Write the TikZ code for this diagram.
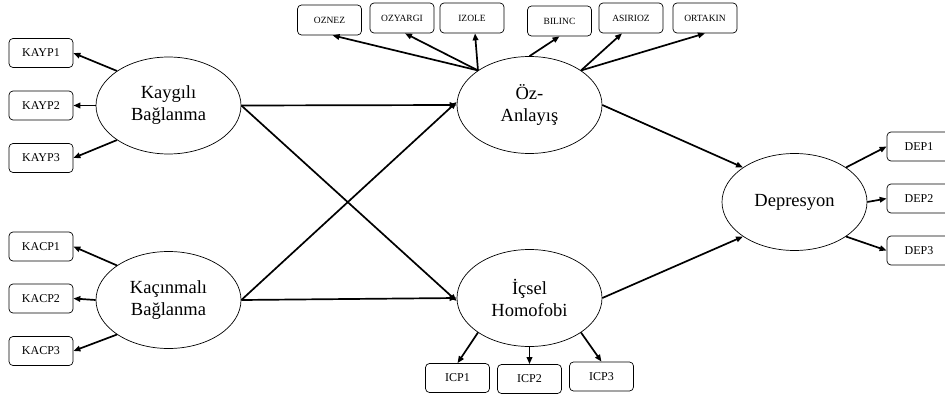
\documentclass[tikz,border=0pt]{standalone}
\usepackage{fontspec}
\setmainfont{Liberation Serif}
\usetikzlibrary{arrows.meta,shapes.geometric}
\begin{document}
\begin{tikzpicture}[x=1pt,y=-1pt,
  latent/.style={draw, line width=0.7pt, ellipse, minimum width=145pt, minimum height=97pt, inner sep=0pt, align=center, font=\fontsize{18.5}{22}\selectfont},
  indbox/.style={draw, line width=0.7pt, rounded corners=4pt, minimum width=64pt, minimum height=29pt, inner sep=0pt, font=\fontsize{12}{14}\selectfont},
  topbox/.style={draw, line width=0.7pt, rounded corners=4pt, minimum width=64pt, minimum height=30pt, inner sep=0pt, font=\fontsize{9.5}{11}\selectfont},
  arr/.style={line width=1.7pt, -{Triangle[length=7pt,width=5.5pt]}}
]
\useasboundingbox (0,0) rectangle (945,401);
% latent variables
\node[latent] (ka) at (168.5,105.5) {Kaygılı\\Bağlanma};
\node[latent] (kc) at (168.5,300) {Kaçınmalı\\Bağlanma};
\node[latent] (oz) at (529.5,105) {Öz-\\Anlayış};
\node[latent] (ic) at (529.5,298) {İçsel\\Homofobi};
\node[latent] (dep) at (794.5,202) {Depresyon};
% left indicators
\node[indbox] (kayp1) at (41,53) {KAYP1};
\node[indbox] (kayp2) at (41,105.5) {KAYP2};
\node[indbox] (kayp3) at (41,158) {KAYP3};
\node[indbox] (kacp1) at (41,246.5) {KACP1};
\node[indbox] (kacp2) at (41,298.5) {KACP2};
\node[indbox] (kacp3) at (41,351) {KACP3};
% top indicators
\node[topbox] (oznez) at (329.5,20) {OZNEZ};
\node[topbox] (ozyargi) at (402,18) {OZYARGI};
\node[topbox] (izole) at (472,18) {IZOLE};
\node[topbox] (bilinc) at (559.5,21) {BILINC};
\node[topbox] (asirioz) at (631,18) {ASIRIOZ};
\node[topbox] (ortakin) at (705,18) {ORTAKIN};
% bottom indicators
\node[indbox] (icp1) at (457.5,378) {ICP1};
\node[indbox] (icp2) at (529.5,379) {ICP2};
\node[indbox] (icp3) at (601.5,376.5) {ICP3};
% right indicators
\node[indbox] (dep1) at (919,146.5) {DEP1};
\node[indbox] (dep2) at (919,198.5) {DEP2};
\node[indbox] (dep3) at (919,250.5) {DEP3};
% structural paths
\draw[arr] (ka.east) -- (oz.west);
\draw[arr] (ka.east) -- ([yshift=-3pt]ic.west);
\draw[arr] (kc.east) -- ([yshift=3pt]oz.west);
\draw[arr] (kc.east) -- (ic.west);
\draw[arr] (oz.east) -- (dep.north west);
\draw[arr] (ic.east) -- (dep.south west);
% measurement paths
\draw[arr] (ka.north west) -- (kayp1.east);
\draw[arr] (ka.west) -- (kayp2.east);
\draw[arr] (ka.south west) -- (kayp3.east);
\draw[arr] (kc.north west) -- (kacp1.east);
\draw[arr] (kc.west) -- (kacp2.east);
\draw[arr] (kc.south west) -- (kacp3.east);
\draw[arr] (oz.north west) -- ([xshift=3pt]oznez.south);
\draw[arr] (oz.north west) -- ([xshift=3pt]ozyargi.south);
\draw[arr] (oz.north west) -- ([xshift=3pt]izole.south);
\draw[arr] (oz.north) -- (bilinc.south);
\draw[arr] (oz.north east) -- ([xshift=-9pt]asirioz.south);
\draw[arr] (oz.north east) -- (ortakin.south);
\draw[arr] (ic.south west) -- (icp1.north);
\draw[arr] (ic.south) -- (icp2.north);
\draw[arr] (ic.south east) -- (icp3.north);
\draw[arr] (dep.north east) -- (dep1.west);
\draw[arr] (dep.east) -- (dep2.west);
\draw[arr] (dep.south east) -- (dep3.west);
\end{tikzpicture}
\end{document}
